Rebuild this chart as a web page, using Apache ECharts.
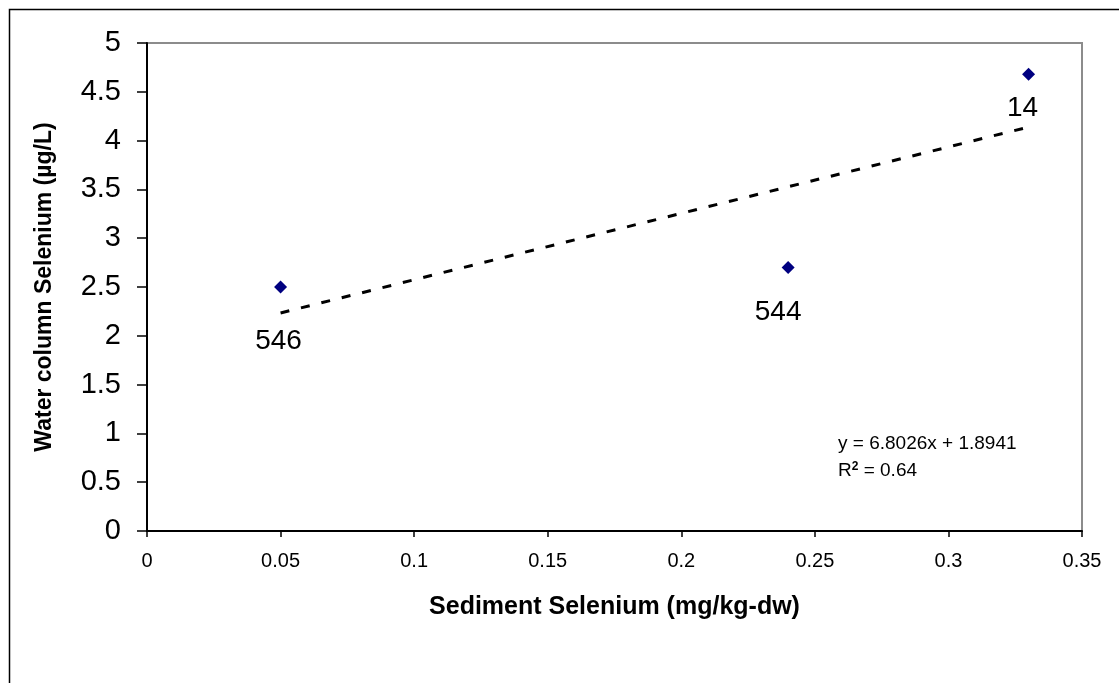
<!DOCTYPE html>
<html>
<head>
<meta charset="utf-8">
<script src="https://cdn.jsdelivr.net/npm/echarts@6/dist/echarts.min.js"></script>
<style>
html,body{margin:0;padding:0;background:#fff;}
#c{width:1119px;height:683px;}
</style>
</head>
<body>
<div id="c"></div>
<script>
// ---- data ----
var sedimentSe = [0.05, 0.24, 0.33];
var waterSe = [2.5, 2.7, 4.68];
var siteLabels = ['546', '544', '14'];
var trendSlope = 6.8026;
var trendIntercept = 1.8941;
var trendR2 = 0.64;
var xTicks = [0, 0.05, 0.1, 0.15, 0.2, 0.25, 0.3, 0.35];
var yTicks = [0, 0.5, 1, 1.5, 2, 2.5, 3, 3.5, 4, 4.5, 5];

var FONT = '"Liberation Sans", Arial, sans-serif';
var labelOffsets = [[-2, 54], [-10, 45], [-6, 34]];

var points = sedimentSe.map(function (x, i) {
  return {
    value: [x, waterSe[i]],
    label: { show: true, formatter: siteLabels[i], position: 'inside', offset: labelOffsets[i],
      color: '#000', fontSize: 28, fontFamily: FONT, textBorderWidth: 0 }
  };
});
var xMin = Math.min.apply(null, sedimentSe), xMax = Math.max.apply(null, sedimentSe);
var trend = [[xMin, trendSlope * xMin + trendIntercept], [xMax, trendSlope * xMax + trendIntercept]];

var chart = echarts.init(document.getElementById('c'));
chart.setOption({
  animation: false,
  backgroundColor: '#fff',
  textStyle: { fontFamily: FONT },
  grid: { left: 147, top: 43, right: 37, bottom: 152, show: true, borderColor: '#8c8c8c', borderWidth: 2, backgroundColor: '#fff' },
  graphic: [
    { type: 'rect', z: -10, shape: { x: 9.5, y: 9.5, width: 1300, height: 1000 }, style: { fill: 'none', stroke: '#000', lineWidth: 1.5 } },
    { type: 'text', left: 838, top: 434, z: 100, style: { text: 'y = ' + trendSlope + 'x + ' + trendIntercept, font: '19px ' + FONT, fill: '#000' } },
    { type: 'text', left: 838, top: 461, z: 100, style: { rich: { s: { fontSize: 12, fontWeight: 'bold', verticalAlign: 'top', padding: [0, 0, 8, 0] } }, text: 'R{s|2} = ' + trendR2, font: '19px ' + FONT, fill: '#000' } }
  ],
  xAxis: {
    type: 'value', min: 0, max: 0.35, interval: 0.05,
    name: 'Sediment Selenium (mg/kg-dw)', nameLocation: 'middle', nameGap: 64,
    nameTextStyle: { fontSize: 25, fontWeight: 'bold', color: '#000', fontFamily: FONT },
    axisLine: { show: true, onZero: false, lineStyle: { color: '#000', width: 2 } },
    axisTick: { show: true, inside: false, length: 6, lineStyle: { color: '#000', width: 1.5 } },
    axisLabel: { fontSize: 20, color: '#000', margin: 20, fontFamily: FONT,
      formatter: function (v) { var r = xTicks.find(function (t) { return Math.abs(t - v) < 1e-9; }); return r === undefined ? '' : String(r); } },
    splitLine: { show: false }
  },
  yAxis: {
    type: 'value', min: 0, max: 5, interval: 0.5,
    name: 'Water column Selenium (µg/L)', nameLocation: 'middle', nameGap: 91, nameRotate: 90,
    nameTextStyle: { fontSize: 23, fontWeight: 'bold', color: '#000', fontFamily: FONT },
    axisLine: { show: true, onZero: false, lineStyle: { color: '#000', width: 2 } },
    axisTick: { show: true, inside: false, length: 10, lineStyle: { color: '#000', width: 1.5 } },
    axisLabel: { fontSize: 29, color: '#000', margin: 26, fontFamily: FONT,
      formatter: function (v) { var r = yTicks.find(function (t) { return Math.abs(t - v) < 1e-9; }); return r === undefined ? '' : String(r); } },
    splitLine: { show: false }
  },
  series: [
    {
      type: 'line', data: trend, showSymbol: false, symbol: 'none', z: 2,
      lineStyle: { color: '#000', width: 3, type: [9, 12] }, silent: true
    },
    {
      type: 'scatter', data: points, symbol: 'diamond', symbolSize: 13, z: 3,
      itemStyle: { color: '#000080', opacity: 1 },
      label: { fontSize: 28, color: '#000', fontFamily: FONT, textBorderWidth: 0 }
    }
  ]
});
</script>
</body>
</html>
